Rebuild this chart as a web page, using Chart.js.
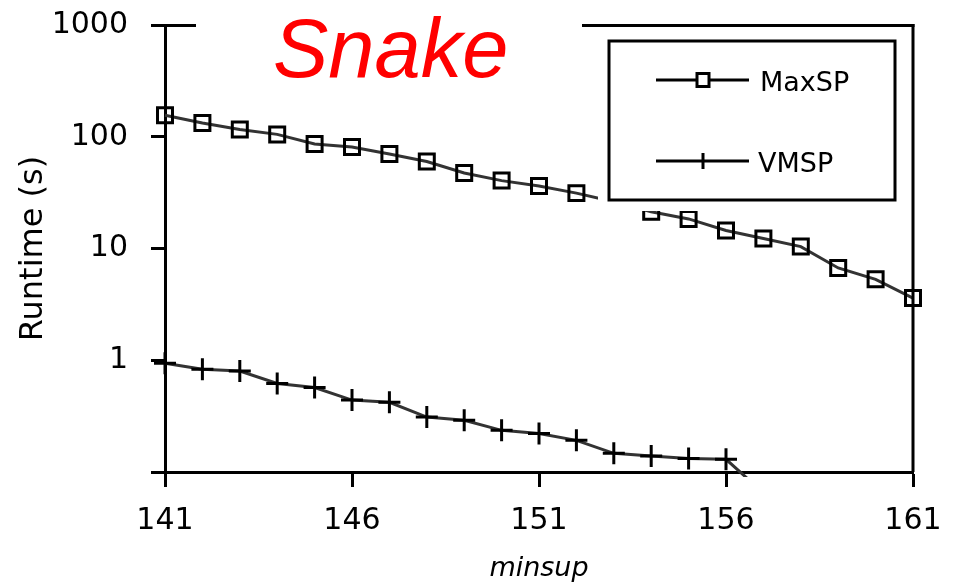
<!DOCTYPE html>
<html><head><meta charset="utf-8">
<script src="https://cdn.jsdelivr.net/npm/chart.js@4.4.1/dist/chart.umd.min.js"></script>
<style>html,body{margin:0;padding:0;background:#fff}#wrap{width:956px;height:585px;position:relative}</style>
</head><body><div id="wrap"><canvas id="c" width="956" height="585"></canvas></div>
<script>
const minsup = [141,142,143,144,145,146,147,148,149,150,151,152,153,154,155,156,157,158,159,160,161];
const maxSP = [156,133,116,105,86,81,70,60,47.4,40.5,36.3,31.3,26.2,21.3,18.4,14.5,12.3,10.4,6.7,5.3,3.6];
const vmsp = [0.94,0.83,0.80,0.62,0.57,0.44,0.42,0.31,0.29,0.236,0.221,0.192,0.147,0.139,0.132,0.130,0.065,null,null,null,null];
const xTicks = [141,146,151,156,161];
const yTicks = [0.1,1,10,100,1000];
const yTickLabels = ['','1','10','100','1000'];
const seriesNames = ['MaxSP','VMSP'];
const chartTitle = 'Snake';
const xTitle = 'minsup';
const yTitle = 'Runtime (s)';

const toPts = arr => minsup.map((x,i)=>({x:x, y:arr[i]}));

const decor = {
  id:'decor',
  afterDatasetsDraw(chart){
    const ctx = chart.ctx, ca = chart.chartArea;
    ctx.save();
    ctx.strokeStyle = '#000'; ctx.lineWidth = 3; ctx.lineCap = 'butt';
    ctx.beginPath(); ctx.moveTo(ca.left, ca.top+0.5); ctx.lineTo(ca.left+31, ca.top+0.5); ctx.stroke();
    ctx.beginPath(); ctx.moveTo(582, ca.top+0.5); ctx.lineTo(ca.right+1.5, ca.top+0.5); ctx.stroke();
    ctx.beginPath(); ctx.moveTo(ca.right, ca.top-1); ctx.lineTo(ca.right, ca.bottom); ctx.stroke();
    ctx.fillStyle = '#ff0000';
    ctx.font = 'italic 83px "Liberation Sans", Arial, sans-serif';
    ctx.textBaseline = 'alphabetic'; ctx.textAlign = 'left';
    ctx.fillText(chartTitle, 273, 77);
    const L=609, T=41, R=895, B=200;
    ctx.fillStyle = '#fff';
    ctx.fillRect(L-11, T-8, R-L+19, B-T+19);
    ctx.strokeRect(L, T, R-L, B-T);
    const rows = [80, 161];
    ctx.font = '27px "DejaVu Sans", sans-serif';
    ctx.textBaseline = 'alphabetic';
    rows.forEach((yy,i)=>{
      ctx.strokeStyle = '#000'; ctx.lineWidth = 3;
      ctx.beginPath(); ctx.moveTo(656, yy); ctx.lineTo(749, yy); ctx.stroke();
      if (i===0) {
        ctx.fillStyle = '#fff';
        ctx.fillRect(697, yy-6.5, 12, 13);
        ctx.strokeRect(697, yy-6.5, 12, 13);
      } else {
        ctx.beginPath(); ctx.moveTo(703, yy-8); ctx.lineTo(703, yy+8); ctx.stroke();
      }
      ctx.fillStyle = '#000';
      ctx.fillText(seriesNames[i], i===0?760:758, yy+11);
    });
    ctx.restore();
  }
};

new Chart(document.getElementById('c'), {
  type:'line',
  data:{
    datasets:[
      {label:seriesNames[0], data:toPts(maxSP), borderColor:'#333', borderWidth:3,
       pointStyle:'rect', pointRadius:10.6, pointBorderColor:'#000', pointBorderWidth:3,
       pointBackgroundColor:'rgba(0,0,0,0)', tension:0, clip:{left:20,top:20,right:20,bottom:20}},
      {label:seriesNames[1], data:toPts(vmsp), borderColor:'#333', borderWidth:3,
       pointStyle:'cross', pointRadius:11, pointBorderColor:'#000', pointBorderWidth:3,
       tension:0, spanGaps:false, clip:{left:20,top:20,right:20,bottom:5}}
    ]
  },
  options:{
    responsive:false, animation:false, devicePixelRatio:1,
    layout:{padding:{left:0,right:43,top:25,bottom:0}},
    plugins:{legend:{display:false}, title:{display:false}, tooltip:{enabled:false}},
    scales:{
      x:{type:'linear', min:141, max:161,
        afterBuildTicks:s=>{s.ticks = xTicks.map(v=>({value:v}));},
        afterFit:s=>{s.height = 113; s.paddingLeft = 0; s.paddingRight = 0;},
        ticks:{font:{family:'DejaVu Sans', size:30}, color:'#000', padding:16, maxRotation:0, autoSkip:false, callback:v=>String(v)},
        grid:{drawOnChartArea:false, drawTicks:true, tickLength:15, tickWidth:3, color:'#000'},
        border:{display:true, width:3, color:'#000'},
        title:{display:true, text:xTitle, font:{family:'DejaVu Sans', size:27, style:'italic'}, color:'#000', padding:{top:0,bottom:0}}
      },
      y:{type:'logarithmic', min:0.1, max:1000,
        afterBuildTicks:s=>{s.ticks = yTicks.map(v=>({value:v}));},
        afterFit:s=>{s.width = 165; s.paddingTop = 0; s.paddingBottom = 0;},
        ticks:{font:{family:'DejaVu Sans', size:30}, color:'#000', padding:23, autoSkip:false,
          callback:(v)=>{const k = yTicks.findIndex(t=>Math.abs(t-v)<1e-9); return k>=0 ? yTickLabels[k] : '';}},
        grid:{drawOnChartArea:false, drawTicks:true, tickLength:14, tickWidth:3, color:'#000'},
        border:{display:true, width:3, color:'#000'},
        title:{display:true, text:yTitle, font:{family:'DejaVu Sans', size:32}, color:'#000', padding:{top:14,bottom:0}}
      }
    }
  },
  plugins:[decor]
});
</script>
</body></html>
